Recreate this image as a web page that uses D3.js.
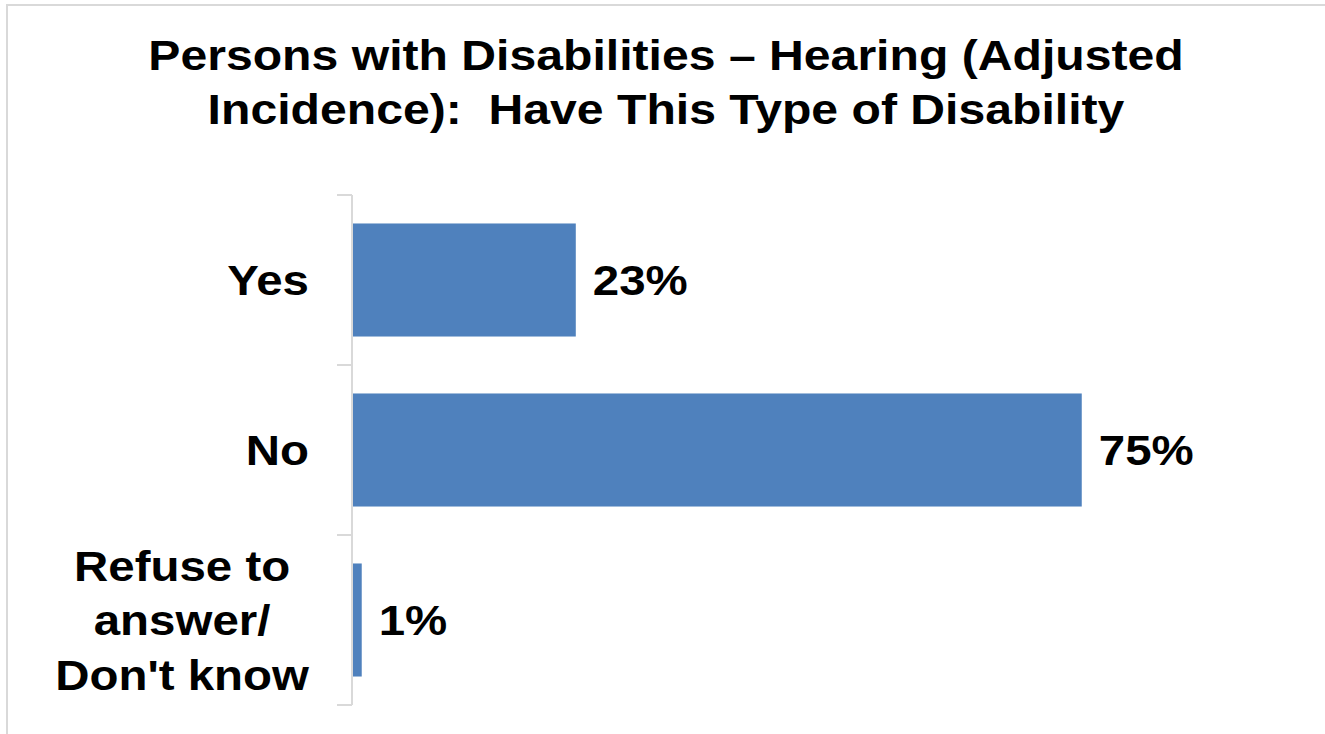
<!DOCTYPE html>
<html>
<head>
<meta charset="utf-8">
<script src="https://cdn.jsdelivr.net/npm/d3@7"></script>
<style>
  body { margin: 0; background: #fff; }
  text { font-family: "Liberation Sans", Arial, sans-serif; font-weight: bold; fill: #000; white-space: pre; }
</style>
</head>
<body>
<svg id="chart" width="1325" height="734"></svg>
<script>
// chart data
var titleLines = ["Persons with Disabilities \u2013 Hearing (Adjusted", "Incidence):  Have This Type of Disability"];
var categories = ["Yes", "No", "Refuse to answer/ Don't know"];
var categoryLines = [["Yes"], ["No"], ["Refuse to", "answer/", "Don't know"]];
var values = [23, 75, 1];
var valueLabels = ["23%", "75%", "1%"];

var svg = d3.select("#chart");

// border of the chart area
svg.append("rect")
    .attr("x", 7).attr("y", 5)
    .attr("width", 1330).attr("height", 740)
    .attr("fill", "none")
    .attr("stroke", "#d9d9d9")
    .attr("stroke-width", 2);

// text in the reference is a bit wider than normal, so stretch it horizontally
function stretchedText(parent, x, y, str, size, anchor, stretch) {
  var g = parent.append("g")
      .attr("transform", "translate(" + x + "," + y + ") scale(" + stretch + ",1)");
  return g.append("text")
      .attr("x", 0).attr("y", 0)
      .attr("font-size", size)
      .attr("text-anchor", anchor)
      .text(str);
}

// title
titleLines.forEach(function(t, i) {
  stretchedText(svg, 666, 70 + i * 54, t, 43, "middle", 1.12);
});

// scales
var x = d3.scaleLinear()
    .domain([0, 100])
    .range([352, 1325]);

var y = d3.scaleBand()
    .domain(categories)
    .range([195, 705])
    .paddingInner(0.335)
    .paddingOuter(0.1675);

// axis line and ticks between categories
var axis = svg.append("g");
axis.append("line")
    .attr("x1", x(0)).attr("x2", x(0))
    .attr("y1", y.range()[0]).attr("y2", y.range()[1])
    .attr("stroke", "#d9d9d9").attr("stroke-width", 2);
var bounds = categories.map(function(c) { return y(c) - y.step() * y.paddingInner() / 2; });
bounds.push(y.range()[1]);
axis.selectAll(".tick")
    .data(bounds)
    .enter().append("line")
    .attr("x1", x(0) - 15).attr("x2", x(0))
    .attr("y1", function(d) { return d; })
    .attr("y2", function(d) { return d; })
    .attr("stroke", "#d9d9d9").attr("stroke-width", 2);

// bars
svg.selectAll(".bar")
    .data(values)
    .enter().append("rect")
    .attr("x", x(0) + 1)
    .attr("y", function(d, i) { return y(categories[i]); })
    .attr("width", function(d) { return x(d) - x(0) - 1; })
    .attr("height", y.bandwidth())
    .attr("fill", "#4f81bd");

// value labels
var fs = 42, sx = 1.13;
values.forEach(function(v, i) {
  var cy = y(categories[i]) + y.bandwidth() / 2;
  stretchedText(svg, x(v) + 17, cy + fs * 0.358, valueLabels[i], fs, "start", sx);
});

// category labels (multi-line ones are centered on their widest line)
categoryLines.forEach(function(lines, i) {
  var cy = y(categories[i]) + y.bandwidth() / 2;
  var lh = 54.5;
  var top = cy + fs * 0.358 - (lines.length - 1) * lh / 2;
  if (lines.length === 1) {
    stretchedText(svg, 309, top, lines[0], fs, "end", sx);
  } else {
    var tmp = svg.append("text").attr("font-size", fs);
    var maxW = d3.max(lines, function(l) { tmp.text(l); return tmp.node().getComputedTextLength(); });
    tmp.remove();
    var cx = 309 - maxW * sx / 2;
    lines.forEach(function(l, j) {
      stretchedText(svg, cx, top + j * lh, l, fs, "middle", sx);
    });
  }
});
</script>
</body>
</html>
